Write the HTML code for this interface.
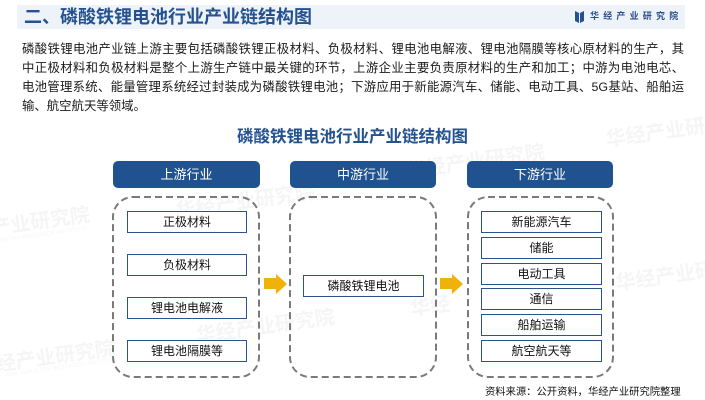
<!DOCTYPE html>
<html>
<head>
<meta charset="utf-8">
<style>
  html,body{margin:0;padding:0;}
  body{width:705px;height:400px;position:relative;overflow:hidden;background:#fff;
    font-family:"Liberation Sans","Noto Sans CJK SC",sans-serif;}
  .abs{position:absolute;}
  .band{left:17px;top:5px;width:668px;height:24px;background:#eef2f9;}
  .title{left:24px;top:4px;font-size:18px;font-weight:bold;color:#24528f;line-height:26px;white-space:nowrap;}
  .logo{left:590px;top:10px;font-size:9px;font-weight:bold;color:#2a4f86;letter-spacing:4.2px;line-height:12px;white-space:nowrap;}
  .para{left:22px;width:662px;font-size:12.4px;color:#1a1a1a;line-height:19px;}
  .para div{text-align:justify;text-align-last:justify;white-space:nowrap;height:19px;}
  .para div.last{text-align-last:left;}
  .dtitle{left:0;width:705px;top:127px;text-align:center;font-size:16.5px;font-weight:bold;color:#24528f;line-height:20px;}
  .hdr{height:27px;top:161px;background:#20528f;border-radius:5px;color:#fff;font-size:13px;text-align:center;line-height:27px;}
  .box{height:20px;border:1.5px solid #2a5490;background:#fff;text-align:center;font-size:12px;line-height:20px;color:#111;}
  .wm{font-size:20px;font-weight:bold;color:#000;opacity:0.035;white-space:nowrap;transform:rotate(-8deg);}
  .wms{font-size:6px;color:#000;opacity:0.04;white-space:nowrap;transform:rotate(-8deg);}
  .foot{left:485px;top:386px;font-size:10.3px;color:#111;line-height:14px;white-space:nowrap;}
</style>
</head>
<body>
<!-- watermarks -->
<div class="abs wm" style="left:-10px;top:205px;">产业研究院</div>
<div class="abs wms" style="left:0px;top:232px;">USTRY RESEARCH INSTITUTE</div>
<div class="abs wm" style="left:-5px;top:340px;">经产业研究院</div>
<div class="abs wms" style="left:5px;top:365px;">JING INDUSTRY RESEARCH INSTITUTE</div>
<div class="abs wm" style="left:175px;top:185px;">华经产业研究院</div>
<div class="abs wm" style="left:195px;top:310px;">华经产业研究院</div>
<div class="abs wm" style="left:405px;top:145px;">华经产业研究院</div>
<div class="abs wm" style="left:605px;top:115px;">华经产业研究</div>
<div class="abs wm" style="left:615px;top:260px;">华经产业研</div>
<div class="abs wm" style="left:410px;top:290px;">华经</div>

<div class="abs band"></div>
<div class="abs title">二、磷酸铁锂电池行业产业链结构图</div>
<svg class="abs" style="left:575px;top:11px" width="10" height="12" viewBox="0 0 10 12">
  <path d="M0 0 L4 2 L4 12 L0 10 Z" fill="#24528f"/>
  <path d="M9 0 L5 2 L5 12 L9 10 Z" fill="#24528f"/>
</svg>
<div class="abs logo">华经产业研究院</div>

<div class="abs para" style="top:40px;">
  <div>磷酸铁锂电池产业链上游主要包括磷酸铁锂正极材料、负极材料、锂电池电解液、锂电池隔膜等核心原材料的生产，其</div>
  <div>中正极材料和负极材料是整个上游生产链中最关键的环节，上游企业主要负责原材料的生产和加工；中游为电池电芯、</div>
  <div>电池管理系统、能量管理系统经过封装成为磷酸铁锂电池；下游应用于新能源汽车、储能、电动工具、5G基站、船舶运</div>
  <div class="last">输、航空航天等领域。</div>
</div>

<div class="abs dtitle">磷酸铁锂电池行业产业链结构图</div>

<div class="abs hdr" style="left:113px;width:147px;">上游行业</div>
<div class="abs hdr" style="left:290px;width:146px;">中游行业</div>
<div class="abs hdr" style="left:467px;width:146px;">下游行业</div>

<svg class="abs" style="left:0;top:0" width="705" height="400">
  <g fill="none" stroke="#7a7a7a" stroke-width="2" stroke-dasharray="7 4">
    <rect x="113" y="197" width="146" height="180" rx="20" ry="20"/>
    <rect x="290" y="197" width="146" height="180" rx="20" ry="20"/>
    <rect x="468" y="197" width="145" height="180" rx="20" ry="20"/>
  </g>
  <path d="M264 278 L276 278 L276 274 L287 284 L276 294 L276 289 L264 289 Z" fill="#f0b10a"/>
  <path d="M440 278 L452 278 L452 274 L463 284 L452 294 L452 289 L440 289 Z" fill="#f0b10a"/>
</svg>

<div class="abs box" style="left:127px;top:211px;width:118px;">正极材料</div>
<div class="abs box" style="left:127px;top:254px;width:118px;">负极材料</div>
<div class="abs box" style="left:127px;top:297px;width:118px;">锂电池电解液</div>
<div class="abs box" style="left:127px;top:340px;width:118px;">锂电池隔膜等</div>

<div class="abs box" style="left:303px;top:275px;width:119px;">磷酸铁锂电池</div>

<div class="abs box" style="left:481px;top:211px;width:119px;">新能源汽车</div>
<div class="abs box" style="left:481px;top:237px;width:119px;">储能</div>
<div class="abs box" style="left:481px;top:263px;width:119px;">电动工具</div>
<div class="abs box" style="left:481px;top:288px;width:119px;">通信</div>
<div class="abs box" style="left:481px;top:314px;width:119px;">船舶运输</div>
<div class="abs box" style="left:481px;top:340px;width:119px;">航空航天等</div>

<div class="abs foot">资料来源：公开资料，华经产业研究院整理</div>
</body>
</html>
